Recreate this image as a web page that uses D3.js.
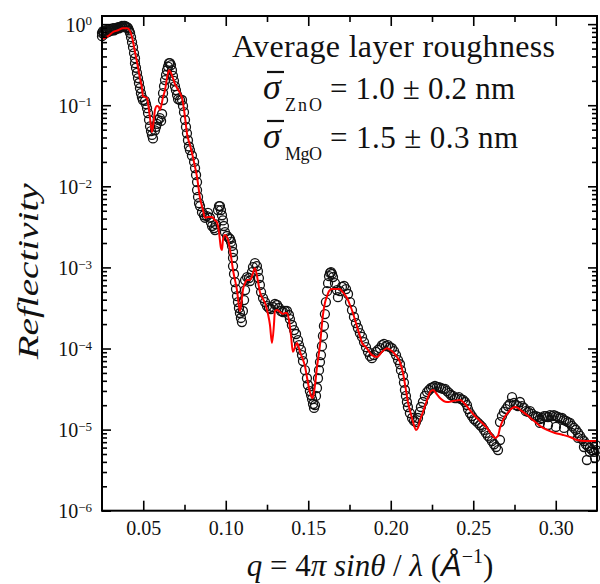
<!DOCTYPE html>
<html lang="en">
<head>
<meta charset="utf-8">
<title>Reflectivity</title>
<script src="https://cdn.jsdelivr.net/npm/d3@7"></script>
<style>
body { margin: 0; background: #fff; }
text { font-family: "Liberation Serif", "DejaVu Serif", serif; fill: #111; }
</style>
</head>
<body>
<script>
// measured reflectivity (q in 1/A)
var dataQ = [
  0.0250,0.0250,0.0256,0.0262,0.0262,0.0268,0.0274,0.0274,0.0280,0.0286,
  0.0292,0.0298,0.0305,0.0311,0.0317,0.0323,0.0329,0.0335,0.0341,0.0347,
  0.0353,0.0359,0.0365,0.0371,0.0377,0.0383,0.0389,0.0395,0.0402,0.0408,
  0.0414,0.0420,0.0426,0.0432,0.0438,0.0444,0.0450,0.0450,0.0456,0.0462,
  0.0468,0.0474,0.0480,0.0486,0.0492,0.0498,0.0511,0.0517,0.0523,0.0529,
  0.0535,0.0541,0.0547,0.0553,0.0559,0.0571,0.0577,0.0583,0.0589,0.0601,
  0.0608,0.0614,0.0620,0.0620,0.0626,0.0632,0.0638,0.0644,0.0650,0.0656,
  0.0662,0.0668,0.0674,0.0680,0.0686,0.0692,0.0698,0.0705,0.0711,0.0723,
  0.0735,0.0741,0.0747,0.0753,0.0759,0.0765,0.0771,0.0777,0.0783,0.0795,
  0.0808,0.0814,0.0820,0.0826,0.0826,0.0832,0.0838,0.0844,0.0856,0.0868,
  0.0874,0.0886,0.0892,0.0904,0.0910,0.0917,0.0929,0.0935,0.0941,0.0953,
  0.0959,0.0965,0.0971,0.0977,0.0983,0.0989,0.0995,0.1008,0.1020,0.1026,
  0.1032,0.1038,0.1044,0.1044,0.1044,0.1050,0.1056,0.1062,0.1068,0.1074,
  0.1080,0.1086,0.1092,0.1098,0.1104,0.1111,0.1117,0.1117,0.1129,0.1141,
  0.1147,0.1159,0.1165,0.1177,0.1189,0.1195,0.1201,0.1207,0.1214,0.1226,
  0.1238,0.1250,0.1262,0.1274,0.1286,0.1298,0.1311,0.1323,0.1335,0.1347,
  0.1359,0.1371,0.1383,0.1389,0.1401,0.1414,0.1426,0.1438,0.1444,0.1456,
  0.1462,0.1468,0.1480,0.1492,0.1498,0.1510,0.1517,0.1523,0.1529,0.1535,
  0.1541,0.1547,0.1553,0.1559,0.1565,0.1571,0.1577,0.1583,0.1589,0.1595,
  0.1601,0.1607,0.1614,0.1620,0.1626,0.1632,0.1638,0.1644,0.1650,0.1662,
  0.1674,0.1680,0.1692,0.1704,0.1717,0.1729,0.1741,0.1753,0.1765,0.1777,
  0.1789,0.1801,0.1813,0.1826,0.1838,0.1850,0.1862,0.1874,0.1886,0.1898,
  0.1910,0.1923,0.1935,0.1947,0.1959,0.1971,0.1983,0.1995,0.2007,0.2020,
  0.2032,0.2044,0.2056,0.2062,0.2074,0.2080,0.2086,0.2092,0.2098,0.2104,
  0.2116,0.2129,0.2141,0.2153,0.2165,0.2177,0.2183,0.2195,0.2207,0.2220,
  0.2232,0.2244,0.2256,0.2268,0.2280,0.2292,0.2304,0.2317,0.2329,0.2341,
  0.2353,0.2365,0.2377,0.2389,0.2401,0.2413,0.2426,0.2438,0.2450,0.2462,
  0.2468,0.2480,0.2492,0.2504,0.2516,0.2529,0.2541,0.2553,0.2565,0.2577,
  0.2589,0.2601,0.2613,0.2626,0.2638,0.2650,0.2662,0.2662,0.2674,0.2686,
  0.2698,0.2710,0.2722,0.2735,0.2747,0.2759,0.2771,0.2783,0.2795,0.2807,
  0.2819,0.2832,0.2844,0.2856,0.2868,0.2880,0.2892,0.2904,0.2916,0.2929,
  0.2941,0.2953,0.2965,0.2977,0.2989,0.3001,0.3013,0.3025,0.3038,0.3050,
  0.3062,0.3074,0.3086,0.3098,0.3110,0.3122,0.3135,0.3147,0.3159,0.3171,
  0.3183,0.3195,0.3207,0.3219,0.3232,0.3244,0.2904,0.2953,0.3001,0.3050,
  0.3098,0.3135,0.3171,0.3189,0.3207,0.3238,0.3244
];
var dataR = [
  0.78,0.71,0.82,0.75,0.80,0.84,0.78,0.82,0.84,0.80,
  0.87,0.82,0.87,0.84,0.89,0.84,0.89,0.87,0.89,0.92,
  0.89,0.92,0.92,0.95,0.92,0.95,0.95,0.92,0.92,0.89,
  0.84,0.78,0.69,0.60,0.52,0.44,0.38,0.33,0.29,0.25,
  0.216,0.188,0.163,0.141,0.126,0.116,0.113,0.103,0.092,0.080,
  0.066,0.055,0.048,0.043,0.039,0.049,0.054,0.059,0.066,0.0695,
  0.064,0.078,0.116,0.141,0.172,0.204,0.236,0.27,0.30,0.33,
  0.33,0.313,0.27,0.23,0.20,0.172,0.154,0.134,0.119,0.116,
  0.116,0.098,0.082,0.066,0.054,0.045,0.037,0.031,0.028,0.024,
  0.020,0.0168,0.0138,0.0113,9.0e-3,7.4e-3,6.2e-3,5.7e-3,4.8e-3,4.4e-3,
  4.1e-3,4.3e-3,4.7e-3,4.1e-3,3.6e-3,3.24e-3,3.06e-3,2.89e-3,3.4e-3,5.1e-3,
  5.7e-3,5.7e-3,5.1e-3,4.4e-3,3.8e-3,3.24e-3,2.73e-3,2.44e-3,2.3e-3,2.24e-3,
  2.06e-3,1.84e-3,1.55e-3,1.31e-3,1.04e-3,8.3e-4,6.6e-4,5.4e-4,4.43e-4,3.74e-4,
  3.16e-4,2.74e-4,2.38e-4,2.12e-4,2.9e-4,3.96e-4,5.26e-4,6.98e-4,7.6e-4,7.4e-4,
  6.8e-4,8.77e-4,1.01e-3,1.13e-3,1.04e-3,9.0e-4,7.4e-4,6.07e-4,4.97e-4,4.19e-4,
  3.74e-4,3.34e-4,3.16e-4,3.07e-4,3.25e-4,3.54e-4,3.44e-4,3.16e-4,2.9e-4,2.82e-4,
  2.9e-4,2.9e-4,2.59e-4,2.31e-4,1.95e-4,1.69e-4,1.51e-4,1.27e-4,1.1e-4,9.6e-5,
  8.3e-5,7.0e-5,5.4e-5,4.3e-5,3.55e-5,2.99e-5,2.67e-5,2.38e-5,2.07e-5,1.85e-5,
  2.01e-5,2.6e-5,3.26e-5,4.3e-5,5.4e-5,6.8e-5,8.3e-5,1.07e-4,1.43e-4,1.9e-4,
  2.66e-4,3.74e-4,5.1e-4,6.4e-4,7.8e-4,8.54e-4,8.77e-4,8.3e-4,7.6e-4,6.4e-4,
  5.26e-4,4.3e-4,5.1e-4,5.74e-4,5.9e-4,5.4e-4,4.7e-4,3.74e-4,2.98e-4,2.45e-4,
  2.06e-4,1.79e-4,1.55e-4,1.39e-4,1.2e-4,1.04e-4,9.1e-5,8.1e-5,7.6e-5,8.3e-5,
  9.1e-5,9.6e-5,1.01e-4,1.1e-4,1.14e-4,1.07e-4,1.1e-4,1.04e-4,1.01e-4,9.3e-5,
  8.3e-5,7.2e-5,6.4e-5,5.4e-5,4.6e-5,3.8e-5,3.08e-5,2.6e-5,2.19e-5,1.9e-5,
  1.6e-5,1.39e-5,1.28e-5,1.24e-5,1.39e-5,1.65e-5,1.9e-5,2.19e-5,2.6e-5,2.9e-5,
  3.08e-5,3.26e-5,3.35e-5,3.45e-5,3.35e-5,3.35e-5,3.26e-5,3.17e-5,3.17e-5,2.99e-5,
  2.83e-5,2.67e-5,2.6e-5,2.45e-5,2.45e-5,2.52e-5,2.38e-5,2.32e-5,2.19e-5,2.01e-5,
  1.79e-5,1.6e-5,1.47e-5,1.35e-5,1.28e-5,1.21e-5,1.14e-5,1.08e-5,9.9e-6,9.1e-6,
  8.35e-6,7.9e-6,7.23e-6,6.6e-6,6.1e-6,5.6e-6,7.44e-6,1.24e-5,1.47e-5,1.65e-5,
  1.79e-5,1.95e-5,2.07e-5,2.52e-5,2.13e-5,2.01e-5,1.95e-5,2.19e-5,1.95e-5,1.85e-5,
  1.69e-5,1.65e-5,1.69e-5,1.56e-5,1.47e-5,1.47e-5,1.43e-5,1.35e-5,1.39e-5,1.47e-5,
  1.47e-5,1.43e-5,1.51e-5,1.47e-5,1.51e-5,1.47e-5,1.43e-5,1.39e-5,1.39e-5,1.31e-5,
  1.28e-5,1.24e-5,1.21e-5,1.11e-5,1.05e-5,9.9e-6,9.1e-6,8.35e-6,7.65e-6,7.23e-6,
  6.6e-6,6.27e-6,5.93e-6,5.6e-6,5.3e-6,5.6e-6,1.21e-5,1.14e-5,1.08e-5,1.05e-5,
  9.1e-6,7.9e-6,6.1e-6,4.22e-6,5.3e-6,4.47e-6,6.45e-6
];

// fitted model curve
var fitQ = [
  0.0250,0.0286,0.0317,0.0347,0.0377,0.0402,0.0420,0.0432,0.0450,0.0468,
  0.0480,0.0492,0.0498,0.0511,0.0523,0.0529,0.0541,0.0553,0.0565,0.0571,
  0.0583,0.0595,0.0601,0.0620,0.0632,0.0644,0.0656,0.0668,0.0680,0.0692,
  0.0705,0.0723,0.0735,0.0741,0.0753,0.0765,0.0783,0.0795,0.0814,0.0826,
  0.0844,0.0862,0.0874,0.0892,0.0917,0.0935,0.0947,0.0959,0.0971,0.0977,
  0.0983,0.0995,0.1014,0.1026,0.1044,0.1068,0.1086,0.1098,0.1104,0.1117,
  0.1129,0.1147,0.1159,0.1177,0.1195,0.1207,0.1226,0.1238,0.1256,0.1268,
  0.1280,0.1292,0.1298,0.1311,0.1329,0.1347,0.1359,0.1371,0.1383,0.1395,
  0.1407,0.1420,0.1432,0.1438,0.1450,0.1462,0.1480,0.1492,0.1510,0.1523,
  0.1529,0.1541,0.1553,0.1571,0.1589,0.1601,0.1614,0.1626,0.1644,0.1668,
  0.1692,0.1704,0.1723,0.1735,0.1753,0.1771,0.1789,0.1813,0.1826,0.1844,
  0.1862,0.1886,0.1917,0.1947,0.1977,0.2007,0.2038,0.2056,0.2074,0.2092,
  0.2104,0.2116,0.2135,0.2153,0.2165,0.2177,0.2195,0.2220,0.2238,0.2256,
  0.2274,0.2298,0.2341,0.2377,0.2420,0.2450,0.2480,0.2510,0.2541,0.2583,
  0.2613,0.2632,0.2650,0.2662,0.2680,0.2704,0.2729,0.2753,0.2771,0.2795,
  0.2826,0.2862,0.2904,0.2947,0.2995,0.3044,0.3086,0.3128,0.3177,0.3250
];
var fitR = [
  0.654,0.71,0.80,0.84,0.89,0.89,0.82,0.69,0.453,0.296,
  0.216,0.163,0.130,0.126,0.123,0.106,0.0695,0.0467,0.0695,0.0872,
  0.098,0.095,0.0872,0.126,0.154,0.216,0.27,0.25,0.216,0.183,
  0.163,0.141,0.123,0.106,0.0714,0.045,0.0323,0.026,0.0173,0.0130,
  7.2e-3,5.1e-3,4.1e-3,4.2e-3,4.2e-3,3.8e-3,3.6e-3,2.73e-3,1.73e-3,1.64e-3,
  2.18e-3,2.51e-3,2.18e-3,1.64e-3,9.3e-4,5.26e-4,2.9e-4,4.19e-4,5.26e-4,6.4e-4,
  6.98e-4,6.98e-4,7.8e-4,9.8e-4,6.8e-4,4.97e-4,4.07e-4,3.64e-4,2.66e-4,1.95e-4,
  1.17e-4,1.95e-4,2.9e-4,2.98e-4,2.82e-4,2.66e-4,2.74e-4,2.74e-4,2.25e-4,1.47e-4,
  9.1e-5,1.04e-4,1.17e-4,1.1e-4,9.1e-5,7.86e-5,6.08e-5,4.45e-5,2.9e-5,2.45e-5,
  2.52e-5,3.55e-5,5.9e-5,1.1e-4,2.59e-4,3.64e-4,4.43e-4,5.1e-4,5.4e-4,5.4e-4,
  5.4e-4,5.1e-4,4.57e-4,4.19e-4,3.44e-4,2.74e-4,2.06e-4,1.43e-4,1.17e-4,1.07e-4,
  9.6e-5,8.3e-5,7.86e-5,9.1e-5,1.01e-4,9.3e-5,7.86e-5,6.8e-5,4.99e-5,3.08e-5,
  2.19e-5,1.74e-5,1.24e-5,9.9e-6,1.05e-5,1.31e-5,1.65e-5,2.32e-5,2.9e-5,3.08e-5,
  2.83e-5,2.45e-5,2.19e-5,2.25e-5,2.32e-5,2.07e-5,1.74e-5,1.47e-5,1.28e-5,1.05e-5,
  8.6e-6,7.9e-6,8.35e-6,1.05e-5,1.31e-5,1.56e-5,1.79e-5,1.9e-5,1.85e-5,1.69e-5,
  1.51e-5,1.31e-5,1.11e-5,9.9e-6,9.1e-6,8.6e-6,8.1e-6,7.44e-6,7.23e-6,7.23e-6
];

// axes
var qRange = [0.025, 0.325];
var rRange = [1e-6, 1.26];
var xTicks = [0.05, 0.10, 0.15, 0.20, 0.25, 0.30];
var xMinorTicks = [0.075, 0.125, 0.175, 0.225, 0.275];
var yTicks = [1, 1e-1, 1e-2, 1e-3, 1e-4, 1e-5, 1e-6];
var yTickExp = ["0", "\u22121", "\u22122", "\u22123", "\u22124", "\u22125", "\u22126"];

var w = 600, h = 584;
var plotL = 102, plotR = 597, plotT = 16, plotB = 510.7;

var svg = d3.select("body").append("svg")
    .attr("width", w)
    .attr("height", h);

var x = d3.scaleLinear().domain(qRange).range([plotL, plotR]);
var y = d3.scaleLog().domain(rRange).range([plotB, plotT]);

var measured = d3.range(Math.min(dataQ.length, dataR.length)).map(function(i) {
    return {q: dataQ[i], r: dataR[i]};
});
var fit = d3.range(Math.min(fitQ.length, fitR.length)).map(function(i) {
    return {q: fitQ[i], r: fitR[i]};
});

// open circles for the data
svg.append("g").selectAll("circle")
    .data(measured)
    .enter()
    .append("circle")
    .attr("cx", function(d) { return x(d.q); })
    .attr("cy", function(d) { return y(d.r); })
    .attr("r", 4.5)
    .attr("fill", "none")
    .attr("stroke", "#111")
    .attr("stroke-width", 1.3);

// red fit line
var line = d3.line()
    .x(function(d) { return x(d.q); })
    .y(function(d) { return y(d.r); })
    .curve(d3.curveMonotoneX);

svg.append("path")
    .datum(fit)
    .attr("d", line)
    .attr("fill", "none")
    .attr("stroke", "#f00")
    .attr("stroke-width", 2);

// frame
svg.append("rect")
    .attr("x", plotL).attr("y", plotT)
    .attr("width", plotR - plotL).attr("height", plotB - plotT)
    .attr("fill", "none").attr("stroke", "#000").attr("stroke-width", 2);

function clean(g) {
    g.select(".domain").remove();
    g.selectAll(".tick line").attr("stroke", "#000").attr("stroke-width", 1.6);
    g.selectAll("text").attr("fill", "#111");
    g.attr("font-family", null).attr("font-size", null);
}

var yMinor = y.ticks().filter(function(d) {
    var l = Math.log10(d);
    return Math.abs(l - Math.round(l)) > 1e-6;
});

// bottom
svg.append("g")
    .attr("transform", "translate(0," + plotB + ")")
    .call(d3.axisBottom(x).tickValues(xTicks).tickSizeInner(-10).tickSizeOuter(0)
        .tickPadding(10).tickFormat(d3.format(".2f")))
    .call(clean)
    .selectAll("text").style("font-size", "20px");
svg.append("g")
    .attr("transform", "translate(0," + plotB + ")")
    .call(d3.axisBottom(x).tickValues(xMinorTicks).tickSizeInner(-6).tickSizeOuter(0).tickFormat(""))
    .call(clean);
// top
svg.append("g")
    .attr("transform", "translate(0," + plotT + ")")
    .call(d3.axisTop(x).tickValues(xTicks).tickSizeInner(-10).tickSizeOuter(0).tickFormat(""))
    .call(clean);
svg.append("g")
    .attr("transform", "translate(0," + plotT + ")")
    .call(d3.axisTop(x).tickValues(xMinorTicks).tickSizeInner(-6).tickSizeOuter(0).tickFormat(""))
    .call(clean);

// left
var yAxisG = svg.append("g")
    .attr("transform", "translate(" + plotL + ",0)")
    .call(d3.axisLeft(y).tickValues(yTicks).tickSizeInner(-9).tickSizeOuter(0).tickPadding(10))
    .call(clean);
yAxisG.selectAll(".tick text").each(function(d) {
    var t = d3.select(this).text(null).style("font-size", "20px").attr("dy", "0.36em");
    t.append("tspan").text("10");
    t.append("tspan").attr("dy", "-0.5em").style("font-size", "13px").text(yTickExp[yTicks.indexOf(d)]);
});
svg.append("g")
    .attr("transform", "translate(" + plotL + ",0)")
    .call(d3.axisLeft(y).tickValues(yMinor).tickSizeInner(-5).tickSizeOuter(0).tickFormat(""))
    .call(clean);
// right
svg.append("g")
    .attr("transform", "translate(" + plotR + ",0)")
    .call(d3.axisRight(y).tickValues(yTicks).tickSizeInner(-9).tickSizeOuter(0).tickFormat(""))
    .call(clean);
svg.append("g")
    .attr("transform", "translate(" + plotR + ",0)")
    .call(d3.axisRight(y).tickValues(yMinor).tickSizeInner(-5).tickSizeOuter(0).tickFormat(""))
    .call(clean);

// axis titles
svg.append("text")
    .attr("transform", "translate(38," + ((plotT + plotB) / 2 + 8) + ") rotate(-90)")
    .attr("text-anchor", "middle")
    .attr("textLength", 176)
    .attr("lengthAdjust", "spacingAndGlyphs")
    .style("font-size", "30px")
    .style("font-style", "italic")
    .text("Reflectivity");

var xt = svg.append("text")
    .attr("x", 370).attr("y", 576)
    .attr("text-anchor", "middle")
    .style("font-size", "31px");
xt.append("tspan").style("font-style", "italic").text("q");
xt.append("tspan").text(" = 4");
xt.append("tspan").style("font-style", "italic").text("\u03c0 sin\u03b8");
xt.append("tspan").text(" / ");
xt.append("tspan").style("font-style", "italic").text("\u03bb");
xt.append("tspan").text(" (");
xt.append("tspan").style("font-family", "'Liberation Sans', sans-serif").style("font-style", "italic").text("\u00c5");
xt.append("tspan").attr("dy", -13).style("font-size", "20px").text("\u22121");
xt.append("tspan").attr("dy", 13).text(")");

// annotation
var note = svg.append("g");
note.append("text")
    .attr("x", 232).attr("y", 57)
    .attr("textLength", 323)
    .style("font-size", "32px")
    .text("Average layer roughness");

var rough = [
    {sub: "ZnO", txt: "= 1.0 \u00b1 0.2 nm", base: 99, len: 185},
    {sub: "MgO", txt: "= 1.5 \u00b1 0.3 nm", base: 148, len: 188}
];
rough.forEach(function(r) {
    note.append("text").attr("x", 263).attr("y", r.base)
        .style("font-size", "36px").style("font-style", "italic").text("\u03c3");
    note.append("line")
        .attr("x1", 267).attr("x2", 284)
        .attr("y1", r.base - 27).attr("y2", r.base - 27)
        .attr("stroke", "#111").attr("stroke-width", 2.2);
    note.append("text").attr("x", 285).attr("y", r.base + 12)
        .attr("textLength", 37)
        .style("font-size", "18px").text(r.sub);
    note.append("text").attr("x", 330).attr("y", r.base)
        .attr("textLength", r.len)
        .style("font-size", "31px").text(r.txt);
});
</script>
</body>
</html>
